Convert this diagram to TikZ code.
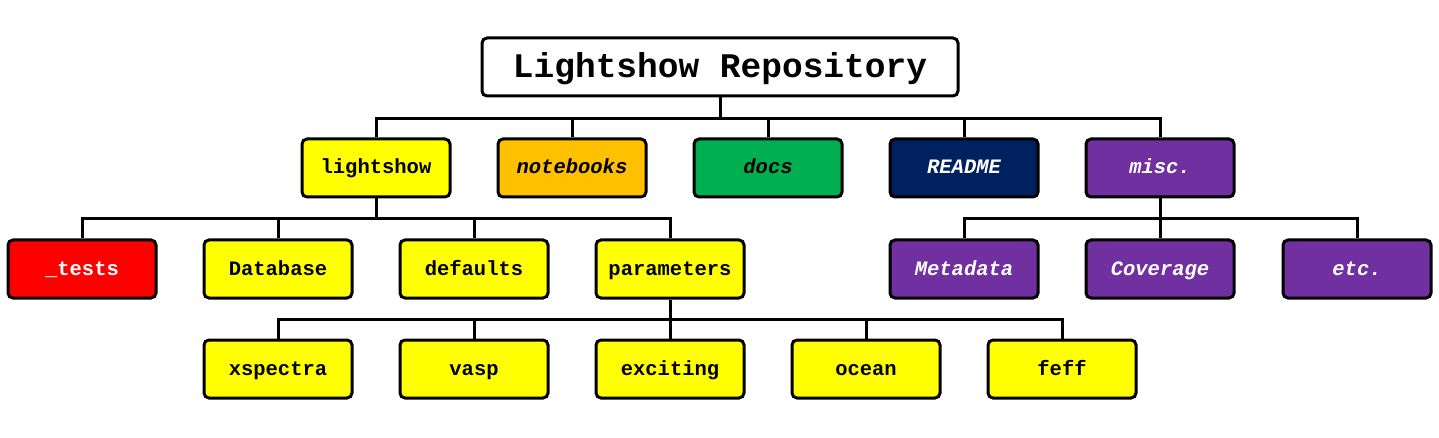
\documentclass[tikz,border=0pt]{standalone}
\usepackage{fontspec}
\setmainfont{Liberation Mono}
\definecolor{cyel}{HTML}{FFFF00}
\definecolor{corange}{HTML}{FFC000}
\definecolor{cgreen}{HTML}{00B050}
\definecolor{cnavy}{HTML}{002060}
\definecolor{cpurple}{HTML}{7030A0}
\definecolor{cred}{HTML}{FF0000}
\begin{document}
\begin{tikzpicture}[x=1pt,y=-1pt,
  box/.style={draw=black, line width=3pt, rounded corners=5pt, minimum width=148pt, minimum height=58pt, inner sep=0pt, text height=14pt, text depth=2pt, font=\fontsize{20.5}{24}\selectfont\bfseries},
  ybox/.style={box, fill=cyel},
  ibox/.style={box, font=\fontsize{20.5}{24}\selectfont\bfseries\itshape},
  link/.style={line width=3pt, line join=miter}]
\useasboundingbox (0,0) rectangle (1439,438);
\node[box, minimum width=476pt, text height=25pt, text depth=3pt, font=\fontsize{34.5}{40}\selectfont\bfseries] (root) at (720,67) {Lightshow Repository};
% level 1
\node[ybox] (lightshow) at (376,168) {lightshow};
\node[ibox, fill=corange] (notebooks) at (572,168) {notebooks};
\node[ibox, fill=cgreen] (docs) at (768,168) {docs};
\node[ibox, fill=cnavy, text=white] (readme) at (964,168) {README};
\node[ibox, fill=cpurple, text=white] (misc) at (1160,168) {misc.};
% level 2
\node[box, fill=cred, text=white] (tests) at (82,269) {\_tests};
\node[ybox] (database) at (278,269) {Database};
\node[ybox] (defaults) at (474,269) {defaults};
\node[ybox] (parameters) at (670,269) {parameters};
\node[ibox, fill=cpurple, text=white] (metadata) at (964,269) {Metadata};
\node[ibox, fill=cpurple, text=white] (coverage) at (1160,269) {Coverage};
\node[ibox, fill=cpurple, text=white] (etc) at (1357,269) {etc.};
% level 3
\node[ybox] (xspectra) at (278,369) {xspectra};
\node[ybox] (vasp) at (474,369) {vasp};
\node[ybox] (exciting) at (670,369) {exciting};
\node[ybox] (ocean) at (866,369) {ocean};
\node[ybox] (feff) at (1062,369) {feff};
% connectors
\foreach \c in {lightshow,notebooks,docs,readme,misc}
  \draw[link] (root.south) -- ++(0,21) -| (\c.north);
\foreach \c in {tests,database,defaults,parameters}
  \draw[link] (lightshow.south) -- ++(0,20) -| (\c.north);
\foreach \c in {metadata,coverage,etc}
  \draw[link] (misc.south) -- ++(0,20) -| (\c.north);
\foreach \c in {xspectra,vasp,exciting,ocean,feff}
  \draw[link] (parameters.south) -- ++(0,20) -| (\c.north);
\end{tikzpicture}
\end{document}
